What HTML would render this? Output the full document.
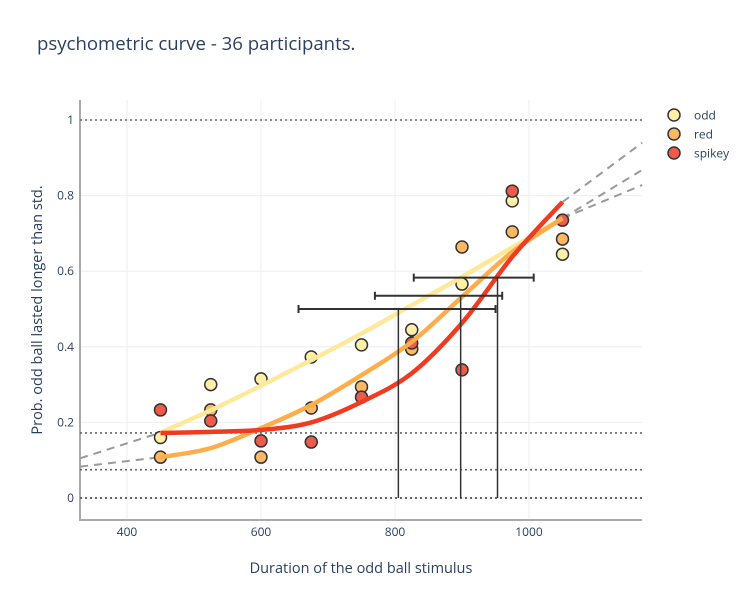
<!DOCTYPE html>
<html><head><meta charset="utf-8"><style>
body{margin:0;background:#fff;}
svg{display:block;font-family:"Open Sans","Liberation Sans",sans-serif;}
</style></head><body>
<svg id="chart" width="750" height="600"></svg>
<script>
const xs = [450,525,600,675,750,825,900,975,1050];
const oddPts = [0.16,0.30,0.315,0.373,0.405,0.445,0.566,0.786,0.645];
const redPts = [0.108,0.233,0.108,0.238,0.294,0.394,0.664,0.704,0.685];
const spikeyPts = [0.233,0.204,0.151,0.148,0.267,0.41,0.339,0.812,0.735];
const oddFit = [0.173,0.232,0.297,0.365,0.435,0.51,0.585,0.663,0.74];
const redFit = [0.108,0.132,0.185,0.246,0.325,0.413,0.532,0.651,0.74];
const spikeyFit = [0.172,0.175,0.18,0.2,0.254,0.33,0.463,0.638,0.783];
const extX = [330,450,1050,1169];
const oddExt = [0.105,0.173,0.74,0.828];
const redExt = [0.083,0.108,0.74,0.868];
const spikeyExt = [null,null,0.783,0.94];
const thrX = [805,898,953];
const thrY = [0.5,0.535,0.583];
const thrLo = [656,770,828];
const thrHi = [950,960,1007];
const hLines = [1,0.172,0.075,0];
const xTicks = [400,600,800,1000];
const yTicks = [0,0.2,0.4,0.6,0.8,1];

const X = v => 127 + (v-400)*0.67;
const Y = v => 498 - v*378;
const svg = document.getElementById('chart');
const NS = 'http://www.w3.org/2000/svg';
function mk(tag, attrs, parent){const e=document.createElementNS(NS,tag);for(const k in attrs)e.setAttribute(k,attrs[k]);(parent||svg).appendChild(e);return e;}
function smooth(pts){
  let d='M'+pts[0][0]+','+pts[0][1];
  for(let i=0;i<pts.length-1;i++){
    const p0=pts[Math.max(i-1,0)],p1=pts[i],p2=pts[i+1],p3=pts[Math.min(i+2,pts.length-1)];
    const c1x=p1[0]+(p2[0]-p0[0])/6,c1y=p1[1]+(p2[1]-p0[1])/6;
    const c2x=p2[0]-(p3[0]-p1[0])/6,c2y=p2[1]-(p3[1]-p1[1])/6;
    d+=' C'+c1x+','+c1y+' '+c2x+','+c2y+' '+p2[0]+','+p2[1];
  }
  return d;
}

let t = mk('text',{x:37,y:50,'font-size':18.6,fill:'#2a3f5f'});


t.textContent='psychometric curve - 36 participants.';

xTicks.forEach(v=>{
  const g=mk('line',{x1:X(v),x2:X(v),y1:100,y2:520,stroke:'#eee'});
  
  
  const l=mk('text',{x:X(v),y:536,'font-size':12,fill:'#2a3f5f','text-anchor':'middle'});
  
  
  l.textContent=v;
});
yTicks.forEach(v=>{
  const g=mk('line',{x1:80,x2:642,y1:Y(v),y2:Y(v),stroke:'#eee'});
  
  
  const l=mk('text',{x:74,y:Y(v)+4,'font-size':12,fill:'#2a3f5f','text-anchor':'end'});
  
  
  l.textContent=v;
});
let a=mk('line',{x1:80,x2:80,y1:100,y2:520,stroke:'#aaa','stroke-width':2});


a=mk('line',{x1:79,x2:642,y1:520,y2:520,stroke:'#aaa','stroke-width':2});



hLines.forEach(v=>{
  const h=mk('line',{x1:80,x2:642,y1:Y(v),y2:Y(v),stroke:'#666','stroke-width':v===0?2:1.6,'stroke-dasharray':'2,3'});
  
  
});

[oddExt,redExt,spikeyExt].forEach(arr=>{
  for(let i=0;i<extX.length;i+=2){
    if(arr[i]==null)continue;
    const e=mk('line',{x1:X(extX[i]),y1:Y(arr[i]),x2:X(extX[i+1]),y2:Y(arr[i+1]),stroke:'#999','stroke-width':2,'stroke-dasharray':'8,6'});
    
    
  }
});

const series=[['odd',oddPts,oddFit,'#FFEFA8','#FEE99A'],['red',redPts,redFit,'#FDB863','#FDAE4B'],['spikey',spikeyPts,spikeyFit,'#EC5B4B','#F03B20']];
series.forEach(s=>{
  xs.forEach((x,i)=>{
    const c=mk('circle',{cx:X(x),cy:Y(s[1][i]),r:6,fill:s[3],stroke:'#333','stroke-width':1.5});
    
    
  });
});
series.forEach(s=>{
  const p=mk('path',{d:smooth(xs.map((x,i)=>[X(x),Y(s[2][i])])),fill:'none',stroke:s[4],'stroke-width':4.5});
  
  
});

thrX.forEach((x,i)=>{
  const v=mk('line',{x1:X(x),x2:X(x),y1:Y(0),y2:Y(thrY[i]),stroke:'#333','stroke-width':1.5});
  
  
  const h=mk('line',{x1:X(thrLo[i]),x2:X(thrHi[i]),y1:Y(thrY[i]),y2:Y(thrY[i]),stroke:'#333','stroke-width':2});
  
  
  [thrLo[i],thrHi[i]].forEach(e=>{
    const c=mk('line',{x1:X(e),x2:X(e),y1:Y(thrY[i])-4,y2:Y(thrY[i])+4,stroke:'#333','stroke-width':2});
    
    
  });
});

t=mk('text',{x:361,y:573,'font-size':14.5,fill:'#2a3f5f','text-anchor':'middle'});


t.textContent='Duration of the odd ball stimulus';
t=mk('text',{x:0,y:0,'font-size':14.5,fill:'#2a3f5f','text-anchor':'middle',transform:'translate(42,310) rotate(-90)'});


t.textContent='Prob. odd ball lasted longer than std.';

series.forEach((s,i)=>{
  const y=115+i*19;
  const c=mk('circle',{cx:674,cy:y,r:6,fill:s[3],stroke:'#333','stroke-width':1.5});
  
  
  const l=mk('text',{x:694,y:y+4.5,'font-size':12,fill:'#2a3f5f'});
  
  
  l.textContent=s[0];
});
</script>
</body></html>
